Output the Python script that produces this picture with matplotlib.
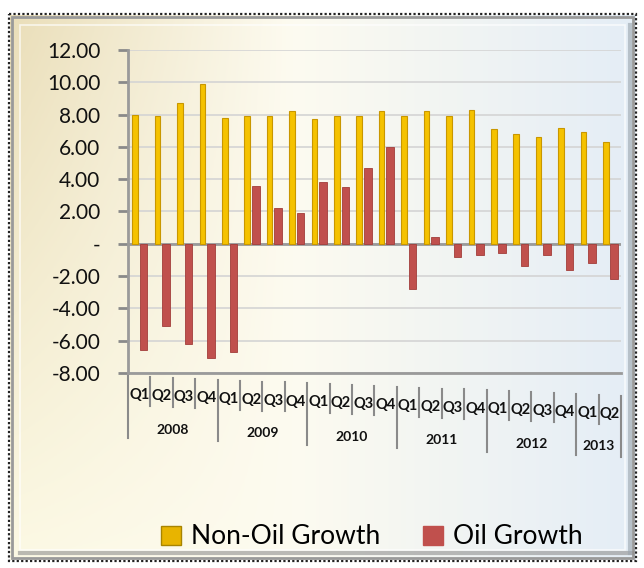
import numpy as np
import matplotlib.pyplot as plt
from matplotlib.patches import Patch, Rectangle

plt.rcParams['font.family'] = ['Lato', 'DejaVu Sans']

# data
quarters = ['Q1', 'Q2', 'Q3', 'Q4', 'Q1', 'Q2', 'Q3', 'Q4', 'Q1', 'Q2', 'Q3', 'Q4',
            'Q1', 'Q2', 'Q3', 'Q4', 'Q1', 'Q2', 'Q3', 'Q4', 'Q1', 'Q2']
years = ['2008', '2009', '2010', '2011', '2012', '2013']
quarters_per_year = [4, 4, 4, 4, 4, 2]
non_oil = [8.0, 7.9, 8.7, 9.9, 7.8, 7.9, 7.9, 8.2, 7.7, 7.9, 7.9, 8.2,
           7.9, 8.2, 7.9, 8.3, 7.1, 6.8, 6.6, 7.2, 6.9, 6.3]
oil = [-6.6, -5.1, -6.2, -7.1, -6.7, 3.6, 2.2, 1.9, 3.8, 3.5, 4.7, 6.0,
       -2.8, 0.4, -0.8, -0.7, -0.6, -1.4, -0.7, -1.6, -1.2, -2.2]
yticks = [12, 10, 8, 6, 4, 2, 0, -2, -4, -6, -8]

W, H = 644, 568
fig = plt.figure(figsize=(W / 100, H / 100), dpi=100)

# background panel with gradient
bg = fig.add_axes([0, 0, 1, 1], zorder=-10)
bg.set_xlim(0, W)
bg.set_ylim(H, 0)
bg.axis('off')
xx, yy = np.meshgrid(np.linspace(0, 1, 200), np.linspace(0, 1, 200))
top_left = np.array([234, 222, 185]) / 255
bot_left = np.array([252, 249, 228]) / 255
mid = np.array([253, 251, 240]) / 255
right = np.array([228, 237, 246]) / 255
left_col = top_left[None, None, :] * (1 - yy[..., None]) + bot_left[None, None, :] * yy[..., None]
t = xx[..., None]
img = np.where(t < 0.45,
               left_col * (1 - t / 0.45) + mid * (t / 0.45),
               mid * (1 - (t - 0.45) / 0.55) + right * ((t - 0.45) / 0.55))
bg.imshow(np.clip(img, 0, 1), extent=[10, 636, 560, 15], aspect='auto', zorder=0)
bg.add_patch(Rectangle((9, 14), 627, 547, fill=False, ec='#222222', lw=1.6, ls=(0, (1, 1)), zorder=2))
bg.add_patch(Rectangle((12, 17), 621, 541, fill=False, ec='#9a9a9a', lw=2, zorder=2))
bg.add_patch(Rectangle((20, 25), 605, 525, fill=False, ec='#ffffff', lw=1.2, alpha=0.7, zorder=2))
bg.plot([20, 632], [553, 553], color='#8f8f8f', lw=3, alpha=0.6, zorder=2)
bg.plot([630, 630], [25, 553], color='#9aa4ad', lw=3, alpha=0.6, zorder=2)

# main chart
ax = fig.add_axes([128 / W, 1 - 373 / H, 493 / W, 323 / H])
ax.patch.set_alpha(0)
x = np.arange(len(quarters))
ax.bar(x - 0.18, non_oil, width=0.25, color='#f5c200', edgecolor='#c99700', linewidth=0.8, zorder=3)
ax.bar(x + 0.2, oil, width=0.34, color='#c0504d', edgecolor='#a23d3a', linewidth=0.6, zorder=3)

ax.set_xlim(-0.5, len(quarters) - 0.5)
ax.set_ylim(-8, 12)
ax.set_yticks(yticks)
ax.set_yticklabels(['-' if v == 0 else f'{v:.2f}' for v in yticks], fontsize=15, color='#111111')
ax.tick_params(axis='y', length=7, width=2, color='#8a8a8a', pad=13)
ax.set_xticks([])
ax.grid(axis='y', color='#d4d4d4', lw=1.2, zorder=0)
ax.axhline(0, color='#9a9a9a', lw=2, zorder=2)
for s in ['top', 'right', 'bottom']:
    ax.spines[s].set_visible(False)
ax.spines['left'].set_color('#9a9a9a')
ax.spines['left'].set_linewidth(2)
ax.axhline(-8, color='#9a9a9a', lw=2, zorder=2, clip_on=False)

# two-level category axis, slightly tilted like the original
tr = ax.get_xaxis_transform()
n = len(quarters)


def tilt(xv):
    return -0.06 * (xv + 0.5) / n


for i, q in enumerate(quarters):
    ax.text(i, -0.068 + tilt(i), q, transform=tr, ha='center', va='center',
            fontsize=10.5, fontweight='bold', color='#111111')
start = 0
bounds = [0]
for y, k in zip(years, quarters_per_year):
    mid_x = start + (k - 1) / 2
    ax.text(mid_x, -0.17 + tilt(mid_x), y, transform=tr, ha='center', va='center',
            fontsize=10, fontweight='bold', color='#111111')
    start += k
    bounds.append(start)
for b in range(n + 1):
    xb = b - 0.5
    low = -0.2 if b in bounds else -0.1
    ax.plot([xb, xb], [-0.01 + tilt(xb), low + tilt(xb)], transform=tr,
            color='#8a8a8a', lw=1.5, clip_on=False)

handles = [Patch(facecolor='#e8b400', edgecolor='#a88400', label='Non-Oil Growth'),
           Patch(facecolor='#c0504d', edgecolor='#c0504d', label='Oil Growth')]
fig.legend(handles=handles, loc='center', bbox_to_anchor=(372 / W, 1 - 537 / H), ncol=2,
           frameon=False, fontsize=19, handlelength=0.75, handleheight=0.75,
           handletextpad=0.4, columnspacing=1.6)

fig.savefig('out.png', dpi=100)
